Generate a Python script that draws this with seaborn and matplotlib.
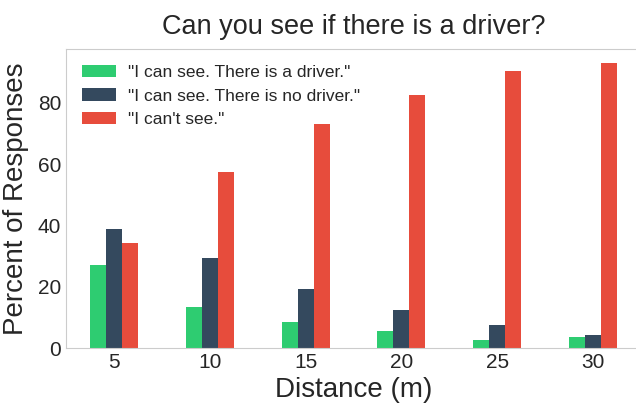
import matplotlib
matplotlib.use("Agg")
import matplotlib.pyplot as plt
import seaborn as sns
import pandas as pd

distances = ["5", "10", "15", "20", "25", "30"]
responses = ['"I can see. There is a driver."',
             '"I can see. There is no driver."',
             '"I can\'t see."']
see_driver = [27.1, 13.4, 8.5, 5.6, 2.6, 3.6]
see_no_driver = [38.9, 29.4, 19.3, 12.4, 7.5, 4.2]
cant_see = [34.3, 57.5, 72.9, 82.4, 90.2, 92.8]
colors = ["#2ecc71", "#34495e", "#e74c3c"]

rows = []
for series, name in zip([see_driver, see_no_driver, cant_see], responses):
    for d, v in zip(distances, series):
        rows.append({"Distance": d, "Response": name, "Percent": v})
df = pd.DataFrame(rows)

sns.set_style("white")
plt.rcParams["font.family"] = ["Liberation Sans", "DejaVu Sans"]

fig = plt.figure(figsize=(6.36, 4.03), dpi=100)
ax = fig.add_axes([66/636, 1-348/403, (641-66)/636, (348-49)/403])
sns.barplot(data=df, x="Distance", y="Percent", hue="Response", order=distances,
            hue_order=responses, palette=colors, width=0.5, gap=0,
            saturation=1, ax=ax, errorbar=None, linewidth=0, edgecolor="none")
ax.set_xlim(-0.5, 5.5)
ax.set_ylim(0, 97.5)
ax.set_yticks([0, 20, 40, 60, 80])
ax.tick_params(axis="both", labelsize=15, length=0)
ax.set_xlabel("Distance (m)", fontsize=20)
ax.set_ylabel("Percent of Responses", fontsize=20, labelpad=6)
ax.set_title("Can you see if there is a driver?", fontsize=19.5, pad=11)
for s in ax.spines.values():
    s.set_color("#cccccc")
ax.legend(title=None, loc="upper left", fontsize=12.5, frameon=False,
          labelspacing=0.5, handletextpad=0.65)
fig.savefig("out.png", dpi=100)
